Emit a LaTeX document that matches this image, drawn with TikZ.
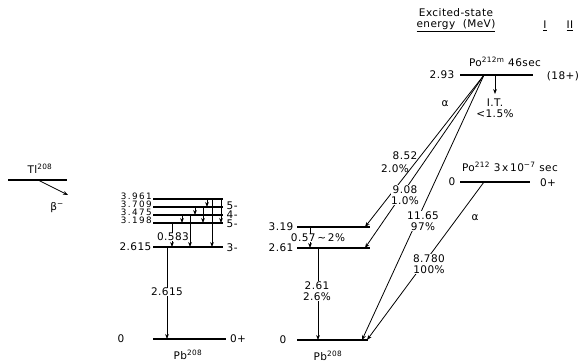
\documentclass[tikz,border=0pt]{standalone}
\usepackage{fontspec}
\setmainfont{DejaVu Sans}[LetterSpace=4]
\usetikzlibrary{arrows.meta}
\begin{document}
\begin{tikzpicture}[x=1pt,y=-1pt,
  lvl/.style={line width=1.2pt},
  ln/.style={line width=0.8pt},
  tr/.style={ln,-{Stealth[length=5pt,width=3.8pt]}},
  lab/.style={font=\fontsize{10.5}{11}\selectfont, inner sep=0.5pt},
  stk/.style={font=\fontsize{8.8}{9}\selectfont\addfontfeature{LetterSpace=16}, inner sep=0pt, text height=6.4pt, text depth=0pt, anchor=east},
  wl/.style={lab, fill=white, align=center}]
\useasboundingbox (0,0) rectangle (581,363);

% ---------- Tl208 ----------
\draw[lvl] (8,180) coordinate (T1) -- (67,180) coordinate (T2);
\coordinate (Tb) at (38,180);
\coordinate (Te) at (68,195);
\draw[tr] (Tb) -- (Te);
\node[lab] (tl) at (40,169) {Tl\textsuperscript{208}};
\node[lab] (beta) at (57,208) {β\textsuperscript{−}};

% ---------- Left Pb208 ----------
\draw[lvl] (153,199) coordinate (La) -- (223,199) coordinate (Lar);
\draw[lvl] (153,207) coordinate (Lb) -- (223,207) coordinate (Lbr);
\draw[lvl] (153,215) coordinate (Lc) -- (223,215) coordinate (Lcr);
\draw[lvl] (153,223) coordinate (Ld) -- (223,223) coordinate (Ldr);
\draw[lvl] (153,247) coordinate (Le) -- (223,247) coordinate (Ler);
\draw[lvl] (153,339) coordinate (Lg) -- (226,339) coordinate (Lgr);

\node[stk] (la) at (152,196) {3.961};
\node[stk] (lb) at (152,204) {3.709};
\node[stk] (lc) at (152,212) {3.475};
\node[stk] (ld) at (152,220) {3.198};
\node[lab,anchor=east] (le) at (152,247) {2.615};
\node[lab] (lg) at (121,339) {0};

\node[lab,anchor=west] (sb) at (226,206) {5-};
\node[lab,anchor=west] (sc) at (226,215) {4-};
\node[lab,anchor=west] (sd) at (226,224) {5-};
\node[lab,anchor=west] (se) at (226,248) {3-};
\node[lab] (sg) at (238,339) {0+};
\node[lab] (pbl) at (188,355) {Pb\textsuperscript{208}};

\draw[tr] (182,0 |- Lc) -- (182,0 |- Ld);
\draw[tr] (190,0 |- Lc) -- (190,0 |- Le);
\draw[tr] (195,0 |- Lb) -- (195,0 |- Lc);
\draw[tr] (203,0 |- Lb) -- (203,0 |- Ld);
\draw[tr] (207,0 |- La) -- (207,0 |- Lb);
\draw[tr] (212,0 |- La) -- (212,0 |- Le);
\draw[tr] (221,0 |- La) -- (221,0 |- Ld);
\draw[tr] (172,0 |- Ld) -- (172,0 |- Le);
\node[wl] (t583) at (173,237) {0.583};
\draw[tr] (167,0 |- Le) -- (167,0 |- Lg);
\node[wl] (t2615) at (167,292) {2.615};

% ---------- Middle Pb208 ----------
\draw[lvl] (297,227) coordinate (Ma) -- (370,227) coordinate (Mar);
\draw[lvl] (297,248) coordinate (Mb) -- (370,248) coordinate (Mbr);
\draw[lvl] (297,340) coordinate (Mg) -- (368,340) coordinate (Mgr);
\node[lab,anchor=east] (ma) at (294,227) {3.19};
\node[lab,anchor=east] (mb) at (294,248) {2.61};
\node[lab] (mg) at (283,340) {0};
\node[lab] (pbm) at (328,356) {Pb\textsuperscript{208}};

\draw[tr] (310,0 |- Ma) -- (310,0 |- Mb);
\node[wl] (t057) at (318,238) {0.57\,\textasciitilde\,2\%};
\draw[tr] (318,0 |- Mb) -- (318,0 |- Mg);
\node[wl] (t261) at (317,291) {2.61\\2.6\%};

% ---------- Header ----------
\node[lab,align=center] (hdr) at (456,20) {Excited-state\\\underline{energy\ \ (MeV)}};
\node[lab] (h1) at (545,26) {\underline{I}};
\node[lab] (h2) at (570,26) {\underline{II}};

% ---------- Po212m ----------
\draw[lvl] (460,75) coordinate (Pa) -- (533,75) coordinate (Par);
\node[lab,anchor=east] (pa) at (455,75) {2.93};
\node[lab] (pspin) at (563,76) {(18+)};
\node[lab] (pname) at (505,62) {Po\textsuperscript{212m} 46sec};
\coordinate (A) at (484,75);
\draw[tr] (495,0 |- Pa) -- (495,94) coordinate (IT);
\node[lab,align=center] (itl) at (495,108) {I.T.\\<1.5\%};
\node[lab] (al1) at (445,104) {α};

\draw[tr] (A) -- (365,0 |- Ma);
\draw[tr] (A) -- (365,0 |- Mb);
\draw[tr] (A) -- (362,0 |- Mg);
\node[lab] (e852) at (405,156) {8.52};
\node[lab] (p20) at (395,169) {2.0\%};
\node[wl] (e908) at (405,195) {9.08\\1.0\%};
\node[wl] (e1165) at (423,221) {11.65\\97\%};

% ---------- Po212 ----------
\draw[lvl] (460,182) coordinate (Qa) -- (530,182) coordinate (Qar);
\node[lab] (qa) at (452,182) {0};
\node[lab] (qspin) at (548,183) {0+};
\node[lab] (qname) at (510,167) {Po\textsuperscript{212} 3\,x\,10\textsuperscript{−7} sec};
\coordinate (B) at (484,182);
\draw[tr] (B) -- (367,0 |- Mg);
\node[lab] (al2) at (475,218) {α};
\node[wl] (e878) at (429,264) {8.780\\100\%};
\end{tikzpicture}
\end{document}
